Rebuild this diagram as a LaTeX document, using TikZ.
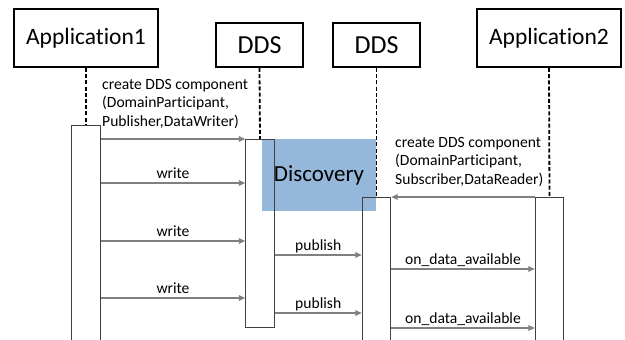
\documentclass[tikz,border=0pt]{standalone}
\usepackage{fontspec}
\setmainfont[Ligatures=CommonOff]{Carlito}
\usetikzlibrary{arrows.meta,calc}
\definecolor{msggray}{HTML}{808080}
\definecolor{discblue}{HTML}{95B7DA}
\definecolor{actline}{HTML}{404040}
\tikzset{
  obj/.style={draw=black, line width=1.8pt, rectangle, inner sep=0pt},
  appbox/.style={obj, minimum width=144pt, minimum height=58pt, font=\fontsize{23.5}{28}\selectfont},
  ddsbox/.style={obj, minimum width=87pt, minimum height=44pt, font=\fontsize{26}{30}\selectfont},
  actbox/.style={draw=actline, line width=0.9pt, rectangle, inner sep=0pt, minimum width=28.5pt, anchor=north},
  life/.style={line width=1.8pt, dash pattern=on 4pt off 2.2pt},
  msg/.style={draw=msggray, line width=1.8pt, -{Triangle[length=6.5pt,width=5.5pt]}},
  lbl/.style={inner sep=0pt, font=\fontsize{15.6}{18.5}\selectfont, text=black},
  msglbl/.style={lbl, midway, anchor=base, yshift=5pt},
  discbox/.style={fill=discblue, rectangle, inner sep=0pt, minimum width=114pt, minimum height=72pt, font=\fontsize{23}{27}\selectfont}
}
\begin{document}
\begin{tikzpicture}[x=1pt,y=-1pt]
\useasboundingbox (0,0) rectangle (625,340);
\clip (0,0) rectangle (625,340);

% objects
\node[appbox] (app1) at (86,38) {Application1};
\node[ddsbox] (dds1) at (259.5,45) {DDS};
\node[ddsbox] (dds2) at (376.5,45) {DDS};
\node[appbox] (app2) at (549,38) {Application2};

% discovery
\node[discbox] (disc) at (319,175) {Discovery};

% activation boxes
\node[actbox, minimum height=240pt] (a1act) at (86,125) {};
\node[actbox, minimum height=188pt] (d1act) at (260,139) {};
\node[actbox, minimum height=160pt] (d2act) at (376.5,197) {};
\node[actbox, minimum height=160pt] (a2act) at (549.5,197) {};

% lifelines
\draw[life] (app1.south) -- (a1act.north);
\draw[life] (dds1.south) -- (d1act.north);
\draw[life] (dds2.south) -- (d2act.north);
\draw[life] (app2.south) -- (a2act.north);

% create labels
\node[lbl, align=left, anchor=north west] (c1) at (102,79)
  {create DDS component\\(DomainParticipant,\\Publisher,DataWriter)};
\node[lbl, align=left, anchor=north west] (c2) at (395,137)
  {create DDS component\\(DomainParticipant,\\Subscriber,DataReader)};

% messages
\draw[msg] (a1act.east |- 0,139) -- (d1act.west |- 0,139);
\draw[msg] (a1act.east |- 0,183) -- (d1act.west |- 0,183) node[msglbl] {write};
\draw[msg] (a1act.east |- 0,241) -- (d1act.west |- 0,241) node[msglbl] {write};
\draw[msg] (a1act.east |- 0,298) -- (d1act.west |- 0,298) node[msglbl] {write};
\draw[msg] (a2act.west |- 0,197) -- (d2act.east |- 0,197);
\draw[msg] (d1act.east |- 0,255) -- (d2act.west |- 0,255) node[msglbl] {publish};
\draw[msg] (d1act.east |- 0,313) -- (d2act.west |- 0,313) node[msglbl] {publish};
\draw[msg] (d2act.east |- 0,269) -- (a2act.west |- 0,269) node[msglbl] {on\_data\_available};
\draw[msg] (d2act.east |- 0,328) -- (a2act.west |- 0,328) node[msglbl] {on\_data\_available};
\end{tikzpicture}
\end{document}
